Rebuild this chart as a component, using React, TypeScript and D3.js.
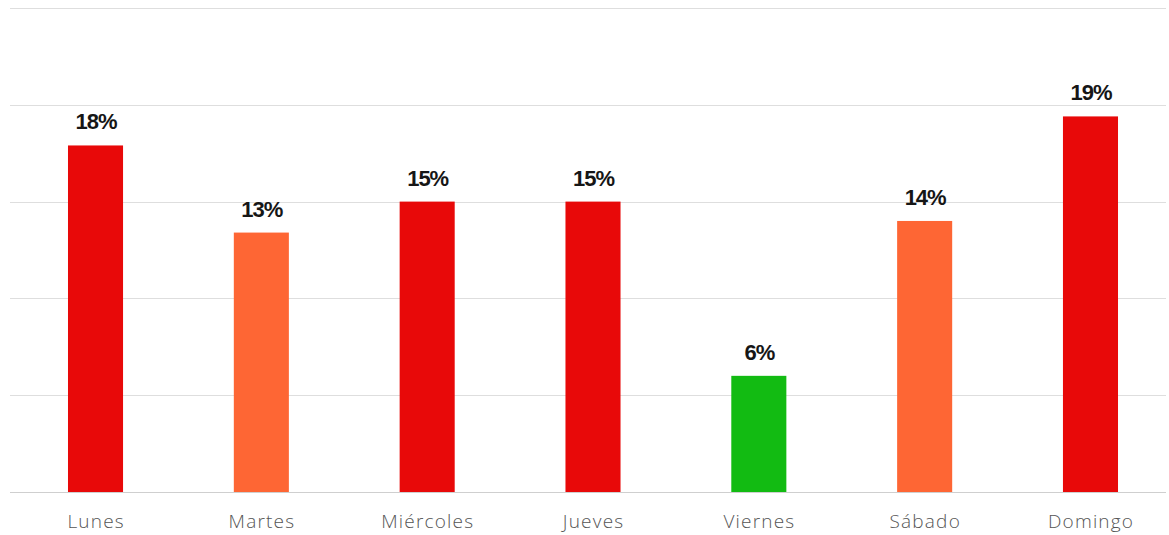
import React from "react";
import * as d3 from "d3";

const categories = ["Lunes", "Martes", "Miércoles", "Jueves", "Viernes", "Sábado", "Domingo"];
const values = [17.9, 13.4, 15.0, 15.0, 6.0, 14.0, 19.4];
const valueLabels = ["18%", "13%", "15%", "15%", "6%", "14%", "19%"];
const barColors = ["#e80909", "#fe6634", "#e80909", "#e80909", "#12bb12", "#fe6634", "#e80909"];
const yTicks = [0, 5, 10, 15, 20, 25];

const W = 1169;
const H = 535;

export default function App() {
  const y = d3.scaleLinear().domain([0, 25]).range([492, 8]);
  const x = d3.scaleBand<string>().domain(categories).range([12.6, 1173.4]).paddingInner(0.668).paddingOuter(0.334);
  return (
    <svg width={W} height={H} style={{ position: "absolute", left: 0, top: 0, background: "#fff" }}>
      {yTicks.map((t) => (
        <line key={t} x1={10} x2={1166} y1={Math.round(y(t)) + 0.5} y2={Math.round(y(t)) + 0.5}
          stroke={t === 0 ? "#cfcfcf" : "#dedede"} strokeWidth={1} />
      ))}
      {categories.map((c, i) => (
        <rect key={c} x={x(c)} y={y(values[i])} width={x.bandwidth()} height={y(0) - y(values[i])} fill={barColors[i]} />
      ))}
      {categories.map((c, i) => (
        <text key={"v" + c} x={(x(c) as number) + x.bandwidth() / 2 + 0.5} y={y(values[i]) - 16}
          textAnchor="middle" fontFamily="Liberation Sans, Arial, sans-serif" fontWeight="bold"
          fontSize={22} letterSpacing={-1} fill="#161616">{valueLabels[i]}</text>
      ))}
      {categories.map((c) => (
        <text key={"l" + c} x={(x(c) as number) + x.bandwidth() / 2 + 0.6} y={527.5}
          textAnchor="middle" fontFamily="'Open Sans', sans-serif" fontWeight={300}
          fontSize={19} letterSpacing={1.2} fill="#555">{c}</text>
      ))}
    </svg>
  );
}
